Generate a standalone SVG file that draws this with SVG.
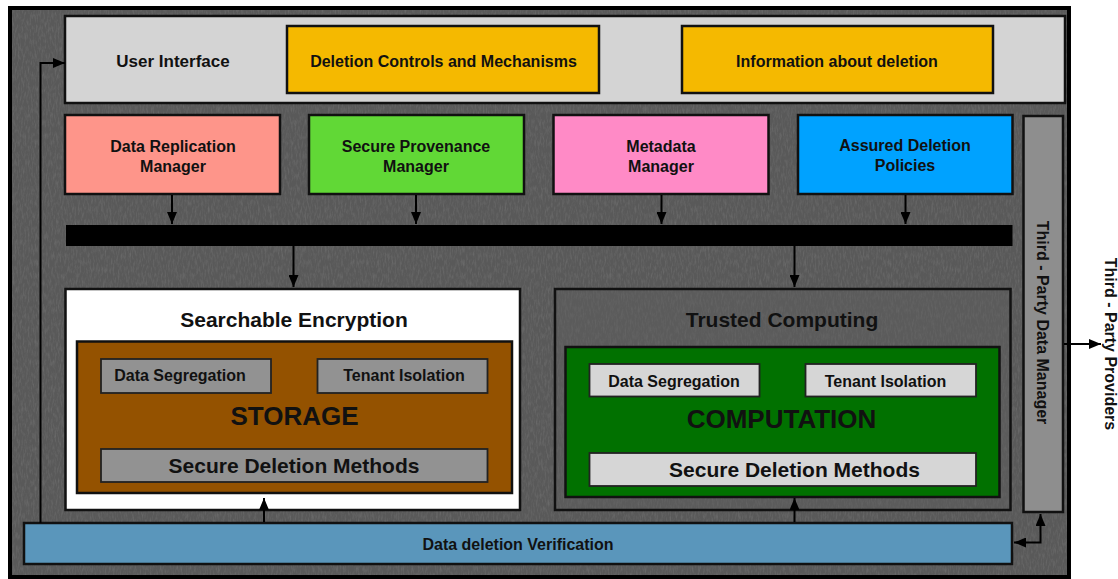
<svg xmlns="http://www.w3.org/2000/svg" width="1118" height="579" viewBox="0 0 1118 579">
<defs>
<style>
text{font-family:"Liberation Sans",Arial,Helvetica,sans-serif;font-weight:bold;fill:#111;text-anchor:middle}
.box{stroke:#111;stroke-width:2.5}
.inner{stroke:#222;stroke-width:1.8}
.conn{stroke:#000;stroke-width:2;fill:none}
.t16{font-size:16px}
.t21{font-size:21px}
.t26{font-size:26px}
</style>
<marker id="ah" viewBox="0 0 12 10" refX="12" refY="5" markerWidth="12" markerHeight="10" markerUnits="userSpaceOnUse" orient="auto-start-reverse">
<path d="M0,0 L12,5 L0,10 z" fill="#000"/>
</marker>
<filter id="noise" x="0" y="0" width="100%" height="100%">
<feTurbulence type="fractalNoise" baseFrequency="0.6 0.15" numOctaves="3" seed="7" result="n"/>
<feColorMatrix type="matrix" values="0 0 0 0 0.6  0 0 0 0 0.6  0 0 0 0 0.6  0.6 0 0 0 -0.25" in="n"/>
</filter>
</defs>

<g id="background">
<rect x="10" y="8" width="1059" height="569" fill="#595959" stroke="#000" stroke-width="4"/>
<rect x="12" y="10" width="1055" height="565" fill="#fff" filter="url(#noise)" opacity="0.5"/>
</g>

<g id="user-interface">
<rect class="box" x="65" y="16" width="1000" height="87" fill="#d4d4d4"/>
<text class="t16" x="173" y="67" style="font-size:17px">User Interface</text>
</g>
<g id="deletion-controls">
<rect class="box" x="287" y="26" width="312" height="67" fill="#f5b900"/>
<text class="t16" x="443.5" y="67">Deletion Controls and Mechanisms</text>
</g>
<g id="information-deletion">
<rect class="box" x="682" y="26" width="311" height="67" fill="#f5b900"/>
<text class="t16" x="837" y="67">Information about deletion</text>
</g>

<g id="data-replication">
<rect class="box" x="65" y="115" width="215" height="79" fill="#fe958a"/>
<text class="t16" x="173" y="152">Data Replication</text>
<text class="t16" x="173" y="171.5">Manager</text>
</g>
<g id="secure-provenance">
<rect class="box" x="309" y="115" width="215" height="79" fill="#61d836"/>
<text class="t16" x="416" y="152.3">Secure Provenance</text>
<text class="t16" x="416" y="172.3">Manager</text>
</g>
<g id="metadata-manager">
<rect class="box" x="553.5" y="115" width="215" height="79" fill="#ff8ac6"/>
<text class="t16" x="661" y="152">Metadata</text>
<text class="t16" x="661" y="172">Manager</text>
</g>
<g id="assured-deletion">
<rect class="box" x="798" y="115" width="214.5" height="79" fill="#00a2ff"/>
<text class="t16" x="905" y="151">Assured Deletion</text>
<text class="t16" x="905" y="171">Policies</text>
</g>

<g id="bus">
<rect x="66" y="225" width="946.5" height="21" fill="#000"/>
</g>

<g id="third-party-manager">
<rect class="box" x="1023.5" y="116" width="39.5" height="396" fill="#8e8e8e"/>
<text class="t16" transform="translate(1043,322.5) rotate(90)" x="0" y="5.7">Third - Party Data Manager</text>
</g>

<g id="searchable-encryption">
<rect class="box" x="65.5" y="289" width="454.5" height="221" fill="#ffffff" stroke-width="3"/>
<text class="t21" x="294" y="327">Searchable Encryption</text>
</g>
<g id="storage">
<rect class="box" x="77" y="341.5" width="435" height="151.5" fill="#945200"/>
<text class="t26" x="294.5" y="425">STORAGE</text>
</g>
<g id="storage-segregation">
<rect class="inner" x="101" y="359" width="170" height="34" fill="#929292"/>
<text class="t16" x="180" y="380.5">Data Segregation</text>
</g>
<g id="storage-isolation">
<rect class="inner" x="317.5" y="359" width="170" height="34" fill="#929292"/>
<text class="t16" x="404" y="380.5">Tenant Isolation</text>
</g>
<g id="storage-deletion">
<rect class="inner" x="101" y="449" width="386.5" height="33" fill="#929292"/>
<text class="t21" x="294" y="472.5">Secure Deletion Methods</text>
</g>

<g id="trusted-computing">
<rect class="box" x="555" y="289" width="455.5" height="221" fill="#5e5e5e" fill-opacity="0.4" stroke-width="3"/>
<text class="t21" x="782" y="327">Trusted Computing</text>
</g>
<g id="computation">
<rect class="box" x="565.5" y="347" width="434" height="150" fill="#017100" stroke-width="3"/>
<text class="t26" x="781.5" y="428">COMPUTATION</text>
</g>
<g id="computation-segregation">
<rect class="inner" x="589.5" y="364" width="170" height="32.5" fill="#d6d6d6"/>
<text class="t16" x="674" y="387.3">Data Segregation</text>
</g>
<g id="computation-isolation">
<rect class="inner" x="805.5" y="364" width="170.5" height="32.5" fill="#d6d6d6"/>
<text class="t16" x="885.5" y="387.3">Tenant Isolation</text>
</g>
<g id="computation-deletion">
<rect class="inner" x="589.5" y="453" width="386.5" height="33" fill="#d6d6d6"/>
<text class="t21" x="794.5" y="476.5">Secure Deletion Methods</text>
</g>

<g id="verification">
<rect class="box" x="24" y="523" width="988" height="41" fill="#5a96bb"/>
<text class="t16" x="518" y="550">Data deletion Verification</text>
</g>

<g id="providers-label">
<text class="t16" transform="translate(1111,344) rotate(90)" x="0" y="5.7">Third - Party Providers</text>
</g>

<g id="connectors">
<line class="conn" x1="172" y1="195" x2="172" y2="224" marker-end="url(#ah)"/>
<line class="conn" x1="416" y1="195" x2="416" y2="224" marker-end="url(#ah)"/>
<line class="conn" x1="661.5" y1="195" x2="661.5" y2="224" marker-end="url(#ah)"/>
<line class="conn" x1="905.5" y1="195" x2="905.5" y2="224" marker-end="url(#ah)"/>
<line class="conn" x1="293.5" y1="246" x2="293.5" y2="287" marker-end="url(#ah)"/>
<line class="conn" x1="794.5" y1="246" x2="794.5" y2="287" marker-end="url(#ah)"/>
<line class="conn" x1="264" y1="522" x2="264" y2="498" marker-end="url(#ah)"/>
<line class="conn" x1="794.5" y1="522" x2="794.5" y2="498" marker-end="url(#ah)"/>
<path class="conn" d="M40.5,523 V63 H65" marker-end="url(#ah)"/>
<path class="conn" d="M1014,542.5 H1040.5 V514" marker-start="url(#ah)" marker-end="url(#ah)"/>
<line class="conn" x1="1064" y1="344" x2="1101" y2="344" marker-end="url(#ah)"/>
</g>
</svg>
